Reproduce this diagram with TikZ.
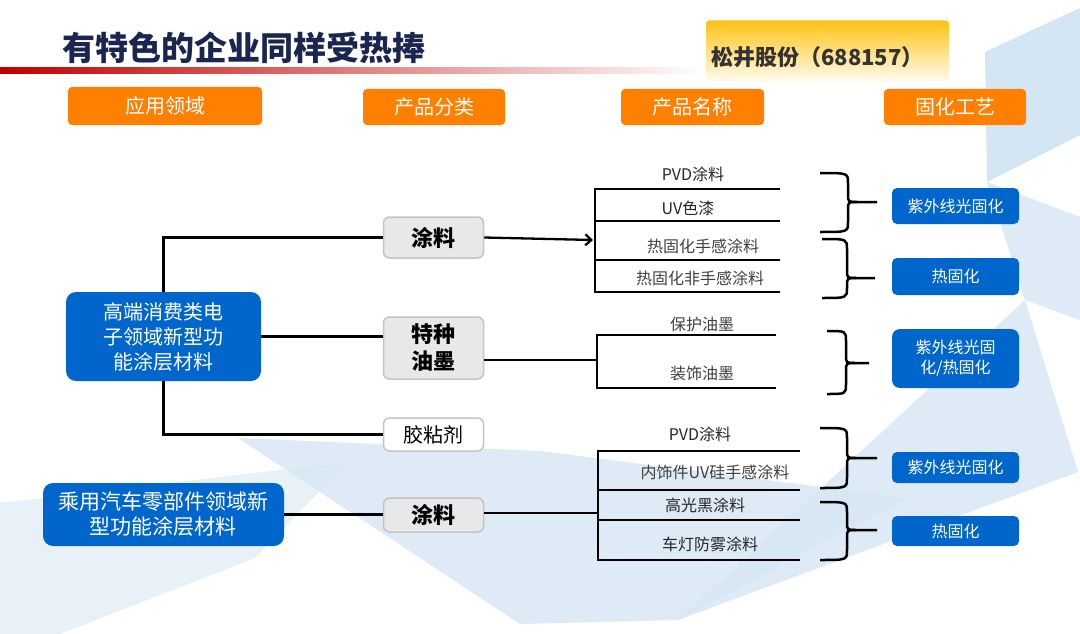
\documentclass[tikz,border=0pt]{standalone}
\usepackage{fontspec}
\setmainfont{Noto Sans CJK SC}
\usetikzlibrary{arrows.meta}
\definecolor{orgC}{HTML}{FF7F00}
\definecolor{bluC}{HTML}{0066CC}
\definecolor{grF}{HTML}{E8E8E8}
\definecolor{grD}{HTML}{C4C4C4}
\definecolor{navy}{HTML}{1A2550}
\definecolor{bgA}{HTML}{C6DEF0}
\definecolor{bgB}{HTML}{D6E7F4}
\definecolor{bgC}{HTML}{E6F0F8}
\definecolor{txtG}{HTML}{404040}
\newcommand{\mkbrace}[6]{% L, V, T, top, mid, bottom
  \draw[brc] (#1,#4) .. controls (#2,#4) and (#2,#4) .. (#2,#4+10) -- (#2,#5-8)
    .. controls (#2,#5) and (#2,#5) .. (#2+9,#5) -- (#3,#5);
  \draw[brc] (#2+9,#5) .. controls (#2,#5) and (#2,#5) .. (#2,#5+8) -- (#2,#6-10)
    .. controls (#2,#6) and (#2,#6) .. (#1,#6);}
\begin{document}
\begin{tikzpicture}[x=1pt,y=-1pt,
  hdr/.style={fill=orgC,rounded corners=4pt,text=white,inner sep=0pt,
    font=\fontsize{20pt}{24pt}\selectfont,minimum height=36pt},
  grayb/.style={fill=grF,draw=grD,line width=1.5pt,rounded corners=6pt,inner sep=0pt,
    align=center,font=\fontsize{22pt}{27pt}\selectfont\bfseries,minimum width=100pt},
  bluL/.style={fill=bluC,rounded corners=10pt,text=white,inner sep=0pt,align=center},
  bluR/.style={fill=bluC,rounded corners=5pt,text=white,inner sep=0pt,align=center,
    font=\fontsize{16pt}{20pt}\selectfont,minimum width=127pt},
  lbl/.style={inner sep=0pt,font=\fontsize{16pt}{19pt}\selectfont,text=black!85},
  lblg/.style={lbl,text=txtG},
  conn/.style={line width=2.8pt,black},
  brc/.style={line width=2.5pt,black}]
\useasboundingbox (0,0) rectangle (1080,634);
\fill[white] (0,0) rectangle (1080,634);
% background shapes
\fill[bgC,opacity=0.9] (0,503) -- (348,462) -- (255,558) -- (60,634) -- (0,634) -- cycle;
\fill[bgB,opacity=0.8] (238,438) -- (540,451) -- (908,498) -- (678,620) -- (520,624) -- cycle;
\fill[bgB,opacity=0.8] (1025,300) -- (1078,472) -- (678,620) -- cycle;
\fill[bgA,opacity=0.75] (985,52) -- (1080,8) -- (1080,135) -- (987,182) -- cycle;
\fill[bgB,opacity=0.8] (987,182) -- (1080,217) -- (1080,320) -- (1025,300) -- cycle;
% title
\node[anchor=west,inner sep=0pt,text=navy,font=\fontsize{33pt}{36pt}\selectfont\bfseries] (title) at (62,48) {有特色的企业同样受热捧};
\shade[left color={rgb,255:red,192;green,0;blue,0},right color=white] (0,68) rectangle (706,74);
\node[rounded corners=3pt,top color={rgb,255:red,255;green,194;blue,20},bottom color={rgb,255:red,255;green,252;blue,240},minimum width=243pt,minimum height=61pt,inner sep=0pt] (yb) at (827.5,51) {};
\node[anchor=west,inner sep=0pt,text=black!80,font=\fontsize{22pt}{26pt}\selectfont\bfseries] (yt) at (711,57.5) {松井股份（688157）};
% headers
\node[hdr,minimum width=194pt,minimum height=38pt] (hA) at (165,106) {应用领域};
\node[hdr,minimum width=142pt] (hB) at (434,107) {产品分类};
\node[hdr,minimum width=143pt] (hC) at (692.5,107) {产品名称};
\node[hdr,minimum width=142pt] (hD) at (955,107) {固化工艺};
% application boxes
\node[bluL,minimum width=195pt,minimum height=89pt,font=\fontsize{20pt}{25pt}\selectfont] (b1) at (163.5,336.5) {高端消费类电\\子领域新型功\\能涂层材料};
\node[bluL,minimum width=241pt,minimum height=63pt,font=\fontsize{21pt}{25pt}\selectfont] (b2) at (163.5,514.5) {乘用汽车零部件领域新\\型功能涂层材料};
% category boxes
\node[grayb,minimum height=41pt] (g1) at (433.5,237.5) {涂料};
\node[grayb,minimum height=62pt] (g2) at (433.5,348) {特种\\油墨};
\node[grayb,fill=white,minimum height=33pt,font=\fontsize{20pt}{24pt}\selectfont] (g3) at (433.5,434.5) {胶粘剂};
\node[grayb,minimum height=34pt] (g4) at (433.5,515) {涂料};
% connectors left
\draw[conn] (b1.north) |- (g1.west);
\draw[conn] (b1.east) -- (b1.east -| g2.west);
\draw[conn] (b1.south) |- (g3.west);
\draw[conn] (b2.east) -- (b2.east -| g4.west);
% structure 1
\coordinate (s1t) at (595,189);
\coordinate (s1b) at (595,292);
\draw[conn,line width=2.3pt,-{Straight Barb[length=6pt,width=11pt]}] (g1.east) -- (593,240);
\draw[conn] (780,189) -- (s1t) -- (s1b) -- (780,292);
\draw[conn] (595,221) -- (780,221);
\draw[conn] (595,260) -- (780,260);
\node[lbl] (p1) at (693,174) {PVD涂料};
\node[lbl] (p2) at (688,208) {UV色漆};
\node[lblg] (p3) at (703,246) {热固化手感涂料};
\node[lblg] (p4) at (700,278) {热固化非手感涂料};
% structure 2
\coordinate (j2) at (597,360);
\draw[conn] (j2 -| g2.east) -- (j2);
\draw[conn] (776,335) -- (597,335) -- (597,388) -- (776,388);
\node[lblg] (p5) at (702,324) {保护油墨};
\node[lblg] (p6) at (702,373) {装饰油墨};
% structure 3
\coordinate (j3) at (598,513);
\draw[conn] (j3 -| g4.east) -- (j3);
\draw[conn] (800,451) -- (598,451) -- (598,560) -- (800,560);
\draw[conn] (598,490) -- (800,490);
\draw[conn] (598,520) -- (800,520);
\node[lbl] (p7) at (700,434) {PVD涂料};
\node[lblg] (p8) at (715,472) {内饰件UV硅手感涂料};
\node[lbl] (p9) at (705,505) {高光黑涂料};
\node[lbl] (p10) at (710,544) {车灯防雾涂料};
% braces
\mkbrace{820}{848}{877}{173}{202}{232}
\mkbrace{822}{847}{875}{239}{278}{298}
\mkbrace{827}{846}{869}{331}{363}{394}
\mkbrace{820}{847}{877}{428}{458}{488}
\mkbrace{820}{847}{877}{502}{530}{560}
% curing boxes
\node[bluR,minimum height=36pt] (r1) at (955.5,206) {紫外线光固化};
\node[bluR,minimum height=37pt] (r2) at (955.5,276.5) {热固化};
\node[bluR,minimum height=59pt,rounded corners=8pt] (r3) at (955.5,358.5) {紫外线光固\\化/热固化};
\node[bluR,minimum height=31pt] (r4) at (955.5,467.5) {紫外线光固化};
\node[bluR,minimum height=30pt] (r5) at (955.5,531) {热固化};
\end{tikzpicture}
\end{document}
